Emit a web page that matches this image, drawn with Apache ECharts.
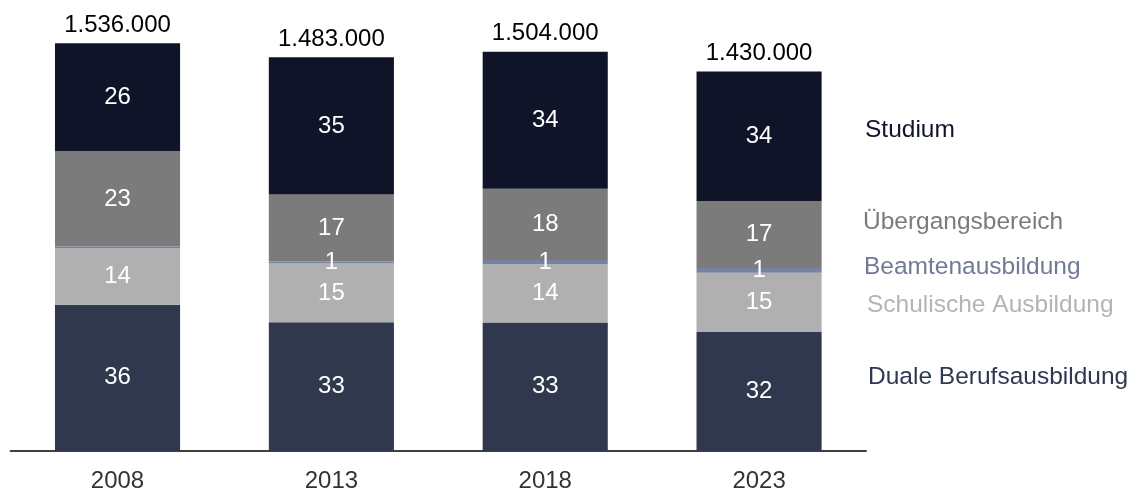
<!DOCTYPE html>
<html>
<head>
<meta charset="utf-8">
<script src="https://cdn.jsdelivr.net/npm/echarts@6/dist/echarts.min.js"></script>
<style>
  html, body { margin: 0; padding: 0; background: #fff; }
  #chart { width: 1137px; height: 493px; }
</style>
</head>
<body>
<div id="chart"></div>
<script>
  // Jahre
  var years = ['2008', '2013', '2018', '2023'];
  // Neuzugänge insgesamt
  var totals = [1536000, 1483000, 1504000, 1430000];

  // Segmenthöhen in Tausend (aus der Grafik geschätzt)
  var duale = [551, 485, 484, 448];
  var schulische = [213, 221, 220, 224];
  var beamten = [6, 8, 16, 17];
  var uebergang = [359, 252, 268, 253];
  var studium = [407, 517, 516, 488];

  // Anteile in Prozent, wie beschriftet
  var dualePct = [36, 33, 33, 32];
  var schulischePct = [14, 15, 14, 15];
  var beamtenPct = [null, 1, 1, 1];
  var uebergangPct = [23, 17, 18, 17];
  var studiumPct = [26, 35, 34, 34];

  var font = 'Liberation Sans, Arial, sans-serif';
  var chart = echarts.init(document.getElementById('chart'));

  function makeSeries(name, values, pcts, color) {
    return {
      name: name,
      type: 'bar',
      stack: 'total',
      barWidth: '58.5%',
      data: values,
      itemStyle: { color: color },
      label: {
        show: true,
        position: 'inside',
        color: '#fff',
        fontSize: 24,
        fontFamily: font,
        formatter: function (p) {
          var v = pcts[p.dataIndex];
          return v == null ? '' : String(v);
        }
      },
      emphasis: { disabled: true }
    };
  }

  var seriesList = [
    makeSeries('Duale Berufsausbildung', duale, dualePct, '#30384e'),
    makeSeries('Schulische Ausbildung', schulische, schulischePct, '#b0b0b0'),
    makeSeries('Beamtenausbildung', beamten, beamtenPct, '#7583a0'),
    makeSeries('Übergangsbereich', uebergang, uebergangPct, '#7b7b7b'),
    makeSeries('Studium', studium, studiumPct, '#0f1429'),
    {
      name: 'Summe',
      type: 'bar',
      stack: 'total',
      barWidth: '58.5%',
      data: totals.map(function () { return 0; }),
      itemStyle: { color: 'transparent' },
      label: {
        show: true,
        position: 'top',
        distance: 6,
        color: '#000',
        fontSize: 24,
        fontFamily: font,
        formatter: function (p) {
          return totals[p.dataIndex].toLocaleString('de-DE');
        }
      },
      emphasis: { disabled: true }
    }
  ];

  var legendTexts = [
    { text: 'Studium', y: 130, x: 865, color: '#0f1429' },
    { text: 'Übergangsbereich', y: 222, x: 863, color: '#7b7b7b' },
    { text: 'Beamtenausbildung', y: 267, x: 864, color: '#6f7b96' },
    { text: 'Schulische Ausbildung', y: 305, x: 867, color: '#b4b4b4' },
    { text: 'Duale Berufsausbildung', y: 377, x: 868, color: '#2f3850' }
  ];

  chart.setOption({
    animation: false,
    grid: { left: 10.6, right: 271, top: 43.3, bottom: 41 },
    xAxis: {
      type: 'category',
      data: years,
      axisLine: { lineStyle: { color: '#404040', width: 2 } },
      axisTick: { show: false },
      axisLabel: { color: '#333', fontSize: 24, fontFamily: font, margin: 18 }
    },
    yAxis: {
      type: 'value',
      min: 0,
      max: 1536,
      show: false,
      splitLine: { show: false }
    },
    series: seriesList,
    graphic: legendTexts.map(function (t) {
      return {
        type: 'text',
        left: t.x,
        top: t.y - 12,
        style: { text: t.text, fill: t.color, fontSize: 24.5, fontFamily: font }
      };
    })
  });
</script>
</body>
</html>
